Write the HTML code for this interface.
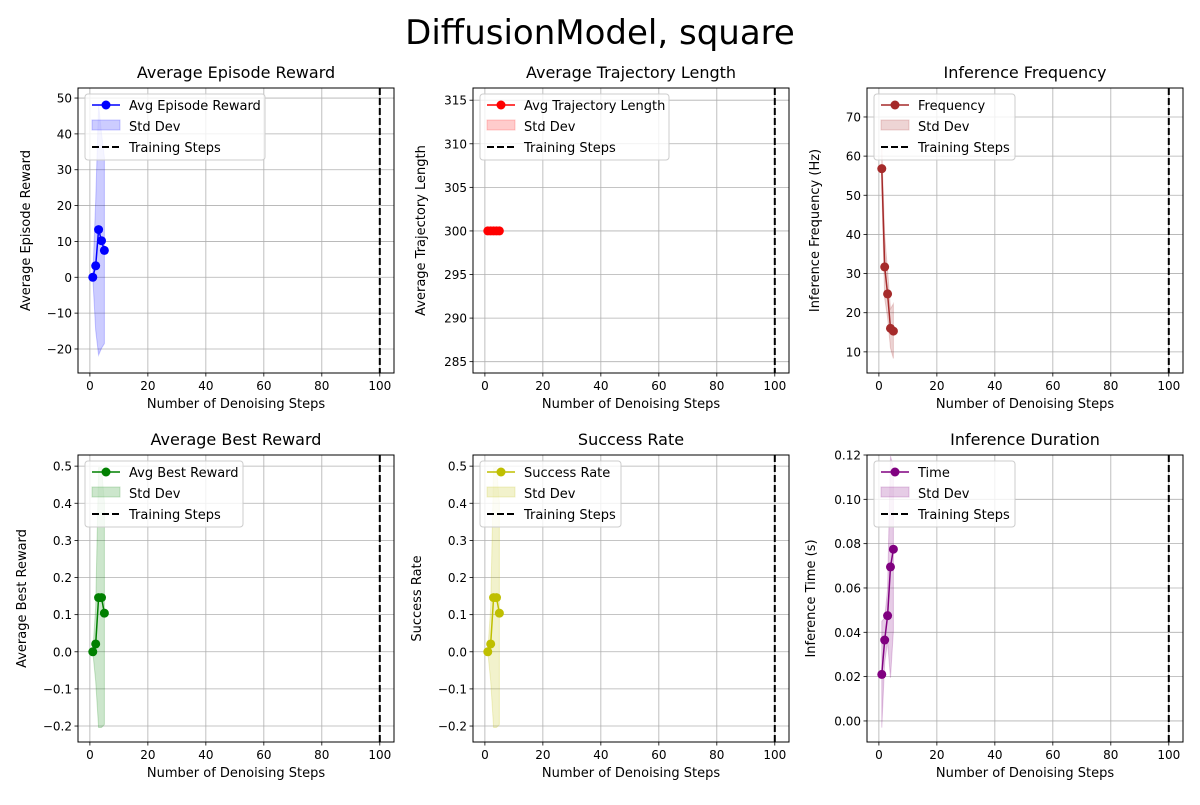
<!DOCTYPE html>
<html><head><meta charset="utf-8"><style>
body{margin:0;background:#fff;font-family:"Liberation Sans","DejaVu Sans",sans-serif}
svg text{font-family:"DejaVu Sans","Liberation Sans",sans-serif}
</style></head><body>
<svg id="fig" width="1200" height="800" xmlns="http://www.w3.org/2000/svg">
<rect width="1200" height="800" fill="#fff"/>
<text x="600" y="44" font-size="34" text-anchor="middle" fill="#000">DiffusionModel, square</text>
</svg>
<script>
const steps=[1,2,3,4,5];
const trainingStep=100;
const rewardVals=[0,3.2,13.3,10.2,7.5];
const rewardStd=[0,18,35,30,26];
const lengthVals=[300,300,300,300,300];
const lengthStd=[0,0,0,0,0];
const freqVals=[56.8,31.7,24.8,16.0,15.3];
const freqStd=[5,8,6,5,7];
const bestVals=[0,0.021,0.146,0.146,0.104];
const bestStd=[0,0.1,0.35,0.35,0.3];
const successVals=[0,0.021,0.146,0.146,0.104];
const successStd=[0,0.1,0.35,0.35,0.3];
const timeVals=[0.021,0.0365,0.0475,0.0695,0.0775];
const timeStd=[0.024,0.01,0.012,0.05,0.037];
const xTicks=[0,20,40,60,80,100];
const panels=[
 {name:'reward',title:'Average Episode Reward',ylabel:'Average Episode Reward',label:'Avg Episode Reward',color:'#0000ff',vals:rewardVals,std:rewardStd,ticks:[-20,-10,0,10,20,30,40,50],dec:0,ymin:-26.7,ymax:52.8,x:78,y:88},
 {name:'length',title:'Average Trajectory Length',ylabel:'Average Trajectory Length',label:'Avg Trajectory Length',color:'#ff0000',vals:lengthVals,std:lengthStd,ticks:[285,290,295,300,305,310,315],dec:0,ymin:283.7,ymax:316.4,x:473,y:88},
 {name:'frequency',title:'Inference Frequency',ylabel:'Inference Frequency (Hz)',label:'Frequency',color:'#a52a2a',vals:freqVals,std:freqStd,ticks:[10,20,30,40,50,60,70],dec:0,ymin:4.6,ymax:77.4,x:867,y:88},
 {name:'best-reward',title:'Average Best Reward',ylabel:'Average Best Reward',label:'Avg Best Reward',color:'#008000',vals:bestVals,std:bestStd,ticks:[-0.2,-0.1,0,0.1,0.2,0.3,0.4,0.5],dec:1,ymin:-0.243,ymax:0.53,x:78,y:455},
 {name:'success',title:'Success Rate',ylabel:'Success Rate',label:'Success Rate',color:'#bfbf00',vals:successVals,std:successStd,ticks:[-0.2,-0.1,0,0.1,0.2,0.3,0.4,0.5],dec:1,ymin:-0.243,ymax:0.53,x:473,y:455},
 {name:'duration',title:'Inference Duration',ylabel:'Inference Time (s)',label:'Time',color:'#800080',vals:timeVals,std:timeStd,ticks:[0,0.02,0.04,0.06,0.08,0.1,0.12],dec:2,ymin:-0.0095,ymax:0.12,x:867,y:455}
];
const NS='http://www.w3.org/2000/svg';
const fig=document.getElementById('fig');
function mk(tag,attrs,parent){const e=document.createElementNS(NS,tag);for(const k in attrs)e.setAttribute(k,attrs[k]);(parent||fig).appendChild(e);return e;}
const W=316,xmin=-4.1,xmax=104.9;
panels.forEach(p=>{
 const g=mk('g',{});
 
 
 const h=p.y>400?287:285;
 const sx=v=>p.x+(v-xmin)/(xmax-xmin)*W;
 const sy=v=>p.y+h-(v-p.ymin)/(p.ymax-p.ymin)*h;
 xTicks.forEach(t=>{const X=sx(t);
  mk('line',{x1:X,x2:X,y1:p.y,y2:p.y+h,stroke:'#b0b0b0','stroke-width':0.8},g);
  mk('line',{x1:X,x2:X,y1:p.y+h,y2:p.y+h+3.5,stroke:'#000','stroke-width':0.8},g);
  const tx=mk('text',{x:X,y:p.y+h+17,'font-size':12,'text-anchor':'middle'},g);tx.textContent=t;
  
  
 });
 p.ticks.forEach(t=>{const Y=sy(t);
  mk('line',{x1:p.x,x2:p.x+W,y1:Y,y2:Y,stroke:'#b0b0b0','stroke-width':0.8},g);
  mk('line',{x1:p.x-3.5,x2:p.x,y1:Y,y2:Y,stroke:'#000','stroke-width':0.8},g);
  let s=t.toFixed(p.dec);s=s.replace('-','\u2212');if(s==='\u22120.0'||s==='\u22120.00')s=s.slice(1);
  const tx=mk('text',{x:p.x-6,y:Y+4.5,'font-size':12,'text-anchor':'end'},g);tx.textContent=s;
  
  
 });
 let pts=steps.map((s,i)=>sx(s)+','+sy(p.vals[i]+p.std[i]));
 pts=pts.concat(steps.slice().reverse().map((s,j)=>{const i=steps.length-1-j;return sx(s)+','+sy(p.vals[i]-p.std[i]);}));
 const band=mk('polygon',{points:pts.join(' '),fill:p.color,'fill-opacity':0.2,stroke:p.color,'stroke-opacity':0.2},g);
 
 
 const line=mk('polyline',{points:steps.map((s,i)=>sx(s)+','+sy(p.vals[i])).join(' '),fill:'none',stroke:p.color,'stroke-width':1.5},g);
 
 
 steps.forEach((s,i)=>{const c=mk('circle',{cx:sx(s),cy:sy(p.vals[i]),r:4.5,fill:p.color},g);
  
  });
 const dl=mk('line',{x1:sx(trainingStep),x2:sx(trainingStep),y1:p.y,y2:p.y+h,stroke:'#000','stroke-width':2,'stroke-dasharray':'7,3'},g);
 
 
 mk('rect',{x:p.x,y:p.y,width:W,height:h,fill:'none',stroke:'#000','stroke-width':1},g);
 const ti=mk('text',{x:p.x+W/2,y:p.y-10,'font-size':16,'text-anchor':'middle'},g);ti.textContent=p.title;
 
 
 const xl=mk('text',{x:p.x+W/2,y:p.y+h+35,'font-size':13,'text-anchor':'middle'},g);xl.textContent='Number of Denoising Steps';
 
 
 const yx=p.x-(p.dec>0?52:48), yy=p.y+h/2;
 const yl=mk('text',{x:yx,y:yy,'font-size':13,'text-anchor':'middle',transform:`rotate(-90 ${yx} ${yy})`},g);yl.textContent=p.ylabel;
 
 
 const lg=mk('g',{},g);
 
 
 const box=mk('rect',{x:p.x+7,y:p.y+6,width:150,height:66,rx:3,fill:'#fff','fill-opacity':0.8,stroke:'#ccc'},lg);
 const lx=p.x+14;
 mk('line',{x1:lx,x2:lx+28,y1:p.y+17,y2:p.y+17,stroke:p.color,'stroke-width':1.5},lg);
 mk('circle',{cx:lx+14,cy:p.y+17,r:4.5,fill:p.color},lg);
 mk('rect',{x:lx,y:p.y+32,width:28,height:10,fill:p.color,'fill-opacity':0.2,stroke:p.color,'stroke-opacity':0.2},lg);
 mk('line',{x1:lx,x2:lx+28,y1:p.y+59,y2:p.y+59,stroke:'#000','stroke-width':2,'stroke-dasharray':'7,3'},lg);
 let maxw=0;
 [[p.label,22],['Std Dev',43],['Training Steps',64]].forEach(([t,dy])=>{const e=mk('text',{x:lx+37,y:p.y+dy,'font-size':13},lg);e.textContent=t;
  
  
  maxw=Math.max(maxw,e.getComputedTextLength());});
 box.setAttribute('width',Math.round((lx+37+maxw*0.97+8)-(p.x+7)));
});
</script>
</body></html>
